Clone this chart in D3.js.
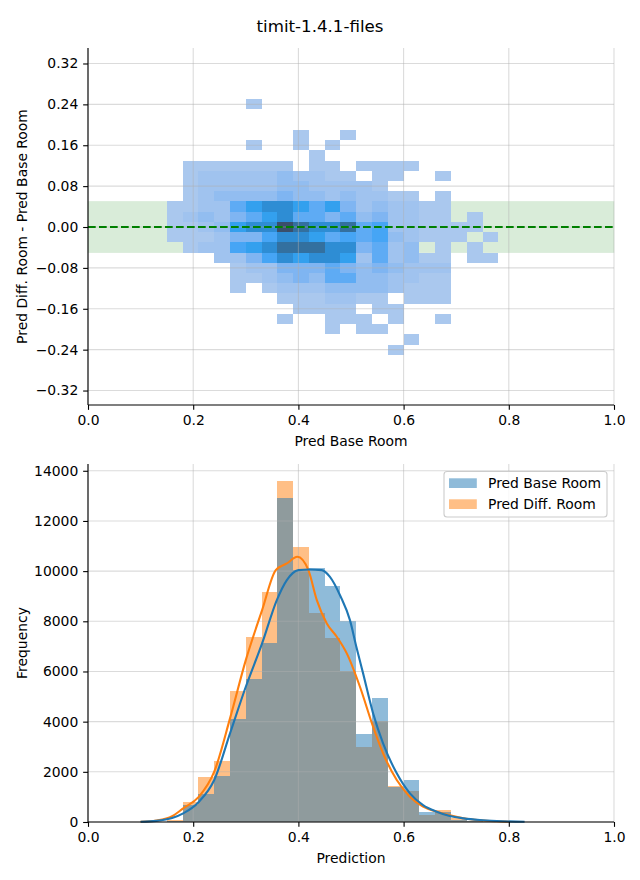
<!DOCTYPE html>
<html><head><meta charset="utf-8">
<script src="https://cdn.jsdelivr.net/npm/d3@7"></script>
<style>body{margin:0;background:#fff}svg{display:block;font-family:"DejaVu Sans",sans-serif}</style>
</head><body><svg id="c" width="640" height="880"></svg>
<script>
const title = "timit-1.4.1-files";
// ---- top: 2D histogram of (Pred Base Room, Pred Diff - Base) ----
const heatXStart = 0.15, heatXStep = 0.03, heatYStep = 0.02;
const heatRowCenters = [0.24,0.22,0.20,0.18,0.16,0.14,0.12,0.10,0.08,0.06,0.04,0.02,0,-0.02,-0.04,-0.06,-0.08,-0.10,-0.12,-0.14,-0.16,-0.18,-0.20,-0.22,-0.24];
// relative count level per cell (0 = empty), rows top->bottom, 21 columns from 0.15
const heatLevels = [
 [0,0,0,0,0,1,0,0,0,0,0,0,0,0,0,0,0,0,0,0,0],
 [0,0,0,0,0,0,0,0,0,0,0,0,0,0,0,0,0,0,0,0,0],
 [0,0,0,0,0,0,0,0,0,0,0,0,0,0,0,0,0,0,0,0,0],
 [0,0,0,0,0,0,0,0,1,0,0,1,0,0,0,0,0,0,0,0,0],
 [0,0,0,0,0,1,0,0,1,0,1,0,0,0,0,0,0,0,0,0,0],
 [0,0,0,0,0,0,0,0,0,1,0,0,0,0,0,0,0,0,0,0,0],
 [0,1,1,1,1,1,1,1,0,1,1,0,1,1,1,1,0,0,0,0,0],
 [0,1,2,2,2,2,2,3,2,2,1,1,0,1,1,0,0,1,0,0,0],
 [0,1,2,2,2,2,2,3,3,2,2,2,2,1,0,0,0,0,0,0,0],
 [0,1,2,3,3,3,3,4,3,3,2,3,2,2,1,1,0,1,0,0,0],
 [1,1,2,2,5,7,8,8,7,5,7,4,2,3,2,2,1,1,0,0,0],
 [1,2,3,2,4,5,7,8,5,5,4,5,3,4,2,2,1,1,0,1,0],
 [1,1,2,3,7,8,8,10,9,8,8,9,5,6,2,2,1,1,1,1,0],
 [1,1,1,2,4,4,6,8,8,7,5,6,5,6,3,2,1,1,1,0,1],
 [0,1,2,2,6,7,8,9,9,9,8,8,4,5,2,3,0,1,0,1,0],
 [0,0,0,2,2,4,6,8,7,8,8,7,2,5,2,3,1,1,0,1,1],
 [0,0,0,0,1,2,2,4,4,4,5,4,3,4,3,2,2,2,0,0,0],
 [0,0,0,0,1,1,2,3,4,3,5,5,3,3,2,2,1,1,0,0,0],
 [0,0,0,0,1,0,1,2,2,2,3,3,3,3,2,1,1,1,0,0,0],
 [0,0,0,0,0,0,0,1,1,1,2,2,1,1,0,1,1,1,0,0,0],
 [0,0,0,0,0,0,0,0,1,1,1,1,0,1,1,0,0,0,0,0,0],
 [0,0,0,0,0,0,0,1,0,0,1,1,1,0,1,0,0,1,0,0,0],
 [0,0,0,0,0,0,0,0,0,0,1,0,1,1,0,0,0,0,0,0,0],
 [0,0,0,0,0,0,0,0,0,0,0,0,0,0,0,1,0,0,0,0,0],
 [0,0,0,0,0,0,0,0,0,0,0,0,0,0,1,0,0,0,0,0,0]
];
const heatColorLevels = [1,2,3,4,5,6,7,8,9,10];
const heatColors = ["#aac8ee","#a0c3ef","#92bdf0","#7fb5f2","#5eabf4","#46a5f5","#33a0ee","#2e8dd4","#33709f","#3a4f6b"];
const bandRange = [-0.05, 0.05];
const topXTicks = [0,0.2,0.4,0.6,0.8,1.0];
const topYTicks = [0.32,0.24,0.16,0.08,0,-0.08,-0.16,-0.24,-0.32];
// ---- bottom: histograms ----
const histBinStarts = [0.15,0.18,0.21,0.24,0.27,0.30,0.33,0.36,0.39,0.42,0.45,0.48,0.51,0.54,0.57,0.60,0.63,0.66,0.69,0.72,0.75,0.78];
const histBinWidth = 0.03;
const baseRoomCounts = [40,665,1115,1846,4116,5697,7144,12921,10060,10107,9402,8008,3506,4940,1380,1673,412,385,80,30,10,5];
const diffRoomCounts = [60,797,1793,2430,5231,7370,9163,13585,10956,8327,7343,6003,3000,4024,1450,1235,266,478,146,40,10,5];
const kdeBaseX = [0.10,0.13,0.16,0.181,0.211,0.240,0.270,0.300,0.331,0.359,0.378,0.400,0.420,0.444,0.460,0.480,0.498,0.510,0.523,0.542,0.561,0.587,0.612,0.637,0.663,0.688,0.714,0.745,0.777,0.830];
const kdeBaseY = [10,45,160,345,810,1673,3533,5391,7119,8845,9641,10040,10067,10040,9773,9000,8048,7000,5924,4330,3135,1940,1143,677,412,239,146,80,40,8];
const kdeDiffX = [0.10,0.13,0.16,0.181,0.211,0.240,0.270,0.300,0.331,0.357,0.378,0.398,0.419,0.435,0.454,0.473,0.492,0.517,0.542,0.561,0.587,0.612,0.637,0.663,0.688,0.714,0.745,0.777,0.80];
const kdeDiffY = [10,60,230,545,1010,2004,4131,6454,8446,10040,10306,10571,10040,8845,7915,7384,6720,5391,3797,2737,1673,1009,611,412,266,146,70,30,10];
const freqTicks = [0,2000,4000,6000,8000,10000,12000,14000];
const seriesNames = ["Pred Base Room","Pred Diff. Room"];
const seriesColors = ["#1f77b4","#ff7f0e"];

const svg = d3.select("#c");
const fs = 13.9;
const L = 88, R = 614;
const fmtMinus = s => s.replace("-", "\u2212");

svg.append("text").attr("x",320).attr("y",32).attr("text-anchor","middle")
  .attr("font-size",16.67).text(title);

function drawGrid(g, x, y, xt, yt, top, bottom){
  const gg = g.append("g").attr("stroke","#b0b0b0").attr("stroke-opacity",0.45).attr("stroke-width",1.1);
  xt.forEach(v=>gg.append("line").attr("x1",x(v)).attr("x2",x(v)).attr("y1",top).attr("y2",bottom));
  yt.forEach(v=>gg.append("line").attr("x1",L).attr("x2",R).attr("y1",y(v)).attr("y2",y(v)));
}
function drawAxes(x, y, xt, yt, top, bottom, xfmt, yfmt, xlabel, ylabel){
  const ax = svg.append("g").attr("transform",`translate(0,${bottom})`)
    .call(d3.axisBottom(x).tickValues(xt).tickFormat(xfmt).tickSize(4.86).tickPadding(4.86));
  const ay = svg.append("g").attr("transform",`translate(${L},0)`)
    .call(d3.axisLeft(y).tickValues(yt).tickFormat(yfmt).tickSize(4.86).tickPadding(4.86));
  [ax,ay].forEach(a=>{
    a.selectAll("text").attr("font-size",fs).attr("font-family","DejaVu Sans").attr("fill","#000");
    a.selectAll("line").attr("stroke","#000").attr("stroke-width",1.1);
    a.select(".domain").attr("stroke","#000").attr("stroke-width",1.1);
  });
  ax.select(".domain").attr("d",`M${L},0H${R}`);
  ay.select(".domain").attr("d",`M0,${top}V${bottom}`);
  svg.append("text").attr("x",(L+R)/2).attr("y",bottom+40.5).attr("text-anchor","middle")
    .attr("font-size",fs).text(xlabel);
  svg.append("text").attr("transform",`translate(26.5,${(top+bottom)/2}) rotate(-90)`)
    .attr("text-anchor","middle").attr("font-size",fs).text(ylabel);
}

// ===== TOP =====
const tTop = 48, tBot = 405;
const xT = d3.scaleLinear([0,1],[L,R]);
const yT = d3.scaleLinear([-0.3483,0.3503],[tBot,tTop]);
const heatColor = d3.scaleLinear().domain(heatColorLevels).range(heatColors);
const gTop = svg.append("g");
gTop.append("rect").attr("x",L).attr("width",R-L).attr("y",yT(bandRange[1])).attr("height",yT(bandRange[0])-yT(bandRange[1]))
  .attr("fill","#008000").attr("fill-opacity",0.15).attr("stroke","#008000").attr("stroke-opacity",0.06);
const cells = [];
heatLevels.forEach((row,ri)=>row.forEach((v,ci)=>{ if(v>0) cells.push({x0:heatXStart+ci*heatXStep, yc:heatRowCenters[ri], v}); }));
gTop.selectAll("rect.cell").data(cells).join("rect").attr("class","cell")
  .attr("x",d=>xT(d.x0)).attr("width",d=>xT(d.x0+heatXStep)-xT(d.x0))
  .attr("y",d=>yT(d.yc+heatYStep/2)).attr("height",d=>yT(d.yc-heatYStep/2)-yT(d.yc+heatYStep/2))
  .attr("fill",d=>heatColor(d.v)).attr("shape-rendering","crispEdges");
drawGrid(gTop, xT, yT, topXTicks, topYTicks, tTop, tBot);
gTop.append("line").attr("x1",L).attr("x2",R).attr("y1",yT(0)).attr("y2",yT(0))
  .attr("stroke","#008000").attr("stroke-width",2.1).attr("stroke-dasharray","7.7,3.3");
drawAxes(xT, yT, topXTicks, topYTicks, tTop, tBot, d3.format(".1f"), v=>fmtMinus(d3.format(".2f")(v)),
  "Pred Base Room", "Pred Diff. Room - Pred Base Room");

// ===== BOTTOM =====
const bTop = 464, bBot = 822;
const xB = d3.scaleLinear([0,1],[L,R]);
const yB = d3.scaleLinear([0,14270],[bBot,bTop]);
const gB = svg.append("g");
[[diffRoomCounts,1],[baseRoomCounts,0]].forEach(([counts,si])=>{
  gB.append("g").selectAll("rect").data(histBinStarts.map((s,i)=>({s,c:counts[i]}))).join("rect")
    .attr("x",d=>xB(d.s)).attr("width",d=>xB(d.s+histBinWidth)-xB(d.s))
    .attr("y",d=>yB(d.c)).attr("height",d=>yB(0)-yB(d.c))
    .attr("fill",seriesColors[si]).attr("fill-opacity",0.5).attr("shape-rendering","crispEdges");
});
drawGrid(gB, xB, yB, topXTicks, freqTicks, bTop, bBot);
const line = d3.line().x(d=>xB(d[0])).y(d=>yB(d[1])).curve(d3.curveMonotoneX);
gB.append("path").attr("d",line(kdeDiffX.map((v,i)=>[v,kdeDiffY[i]]))).attr("fill","none")
  .attr("stroke",seriesColors[1]).attr("stroke-width",2.1);
gB.append("path").attr("d",line(kdeBaseX.map((v,i)=>[v,kdeBaseY[i]]))).attr("fill","none")
  .attr("stroke",seriesColors[0]).attr("stroke-width",2.1);
drawAxes(xB, yB, topXTicks, freqTicks, bTop, bBot, d3.format(".1f"), d3.format("d"), "Prediction", "Frequency");

// legend
const lg = svg.append("g");
lg.append("rect").attr("x",444).attr("y",471.5).attr("width",163).attr("height",45.5).attr("rx",3)
  .attr("fill","#fff").attr("fill-opacity",0.8).attr("stroke","#cccccc").attr("stroke-width",1.1);
seriesNames.forEach((n,i)=>{
  lg.append("rect").attr("x",449).attr("y",478.3+i*21).attr("width",27.8).attr("height",9.7)
    .attr("fill",seriesColors[i]).attr("fill-opacity",0.5);
  lg.append("text").attr("x",488).attr("y",488.3+i*21).attr("font-size",fs).text(n);
});
</script></body></html>
